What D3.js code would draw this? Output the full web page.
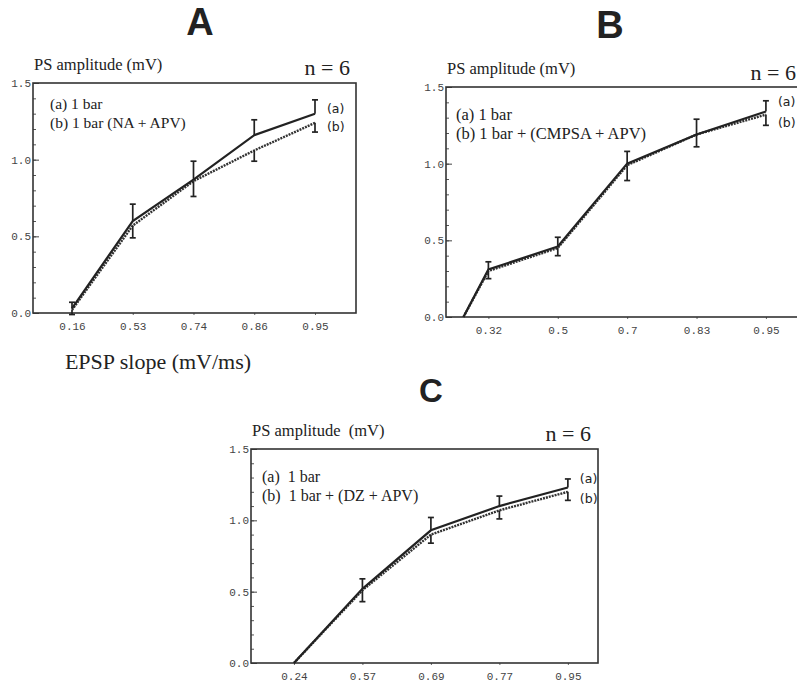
<!DOCTYPE html>
<html>
<head>
<meta charset="utf-8">
<script src="https://cdn.jsdelivr.net/npm/d3@7"></script>
<style>
  body { margin: 0; background: #fff; }
  svg { display: block; }
  text { white-space: pre; }
  .tick text { font-family: 'Liberation Mono', monospace; font-size: 11px; fill: #444; }
</style>
</head>
<body>
<div class="vis-figure"></div>
<script>
// tick labels (EPSP slope, mV/ms) and PS amplitude values
const ticksA = ['0.16', '0.53', '0.74', '0.86', '0.95'];
const xsA = [0, 1, 2, 3, 4];
const seriesAa = [0.03, 0.60, 0.87, 1.16, 1.30];
const seriesAb = [0.02, 0.57, 0.86, 1.06, 1.24];
const errAa = [0.04, 0.11, 0.12, 0.10, 0.09];
const errAb = [0.03, 0.08, 0.10, 0.07, 0.06];

const ticksB = ['0.32', '0.5', '0.7', '0.83', '0.95'];
const xsB = [-0.36, 0, 1, 2, 3, 4];
const seriesBa = [0, 0.31, 0.46, 1.00, 1.19, 1.34];
const seriesBb = [0, 0.30, 0.45, 0.99, 1.19, 1.32];
const errBa = [null, 0.05, 0.06, 0.08, 0.10, 0.07];
const errBb = [null, 0.05, 0.05, 0.10, 0.08, 0.07];

const ticksC = ['0.24', '0.57', '0.69', '0.77', '0.95'];
const xsC = [0, 1, 2, 3, 4];
const seriesCa = [0, 0.52, 0.93, 1.10, 1.23];
const seriesCb = [0, 0.51, 0.90, 1.07, 1.20];
const errCa = [null, 0.07, 0.09, 0.07, 0.06];
const errCb = [null, 0.08, 0.06, 0.06, 0.06];

const yMajor = [0, 0.5, 1.0, 1.5];

const panels = [
    { letter: 'A', letterX: 200, letterY: 35, letterSize: 38,
      box: {left: 33, top: 83, right: 356, bottom: 313}, xDomain: [-0.642, 4.675],
      ticks: ticksA, xs: xsA, a: seriesAa, b: seriesAb, errA: errAa, errB: errAb,
      yTitle: 'PS amplitude (mV)', titleY: 70, nX: 350, nY: 75,
      legend: ['(a) 1 bar', '(b) 1 bar (NA + APV)'], legendSize: 15.5, legendX: 50, legendY: 109, labY: [113, 131] },
    { letter: 'B', letterX: 610, letterY: 38, letterSize: 38,
      box: {left: 446, top: 87, right: 802, bottom: 317}, xDomain: [-0.611, 4.52],
      ticks: ticksB, xs: xsB, a: seriesBa, b: seriesBb, errA: errBa, errB: errBb,
      yTitle: 'PS amplitude (mV)', titleY: 74, nX: 796, nY: 80,
      legend: ['(a) 1 bar', '(b) 1 bar + (CMPSA + APV)'], legendSize: 16.5, legendX: 456, legendY: 120, labY: [106, 127] },
    { letter: 'C', letterX: 431, letterY: 402, letterSize: 33,
      box: {left: 251, top: 449, right: 598, bottom: 663}, xDomain: [-0.627, 4.44],
      ticks: ticksC, xs: xsC, a: seriesCa, b: seriesCb, errA: errCa, errB: errCb,
      yTitle: 'PS amplitude  (mV)', titleY: 436, nX: 591, nY: 441,
      legend: ['(a)  1 bar', '(b)  1 bar + (DZ + APV)'], legendSize: 16, legendX: 262, legendY: 482, labY: [483, 503] }
];

const svg = d3.select('.vis-figure').append('svg')
    .attr('width', 797)
    .attr('height', 683);

const ink = '#222';

panels.forEach(p => {
    const b = p.box;
    const x = d3.scaleLinear().domain(p.xDomain).range([b.left, b.right]);
    const y = d3.scaleLinear().domain([0, 1.5]).range([b.bottom, b.top]);
    const g = svg.append('g');

    // panel letter
    g.append('text')
        .attr('x', p.letterX).attr('y', p.letterY)
        .attr('text-anchor', 'middle')
        .style('font-family', "'Liberation Sans', Arial, sans-serif")
        .style('font-weight', 'bold')
        .style('font-size', p.letterSize + 'px')
        .attr('fill', ink)
        .text(p.letter);

    // y axis: labels, minor ticks, major ticks (pointing inward)
    g.append('g')
        .attr('transform', 'translate(' + (b.left - 1) + ',0)')
        .call(d3.axisLeft(y).tickValues(yMajor).tickSize(0).tickPadding(1).tickFormat(d3.format('.1f')))
        .call(s => s.select('.domain').remove());
    g.append('g')
        .attr('transform', 'translate(' + b.left + ',0)')
        .call(d3.axisRight(y).tickValues(d3.range(0, 16).map(i => i / 10)).tickSize(3).tickFormat(''))
        .call(s => s.select('.domain').remove())
        .selectAll('line').attr('stroke', '#555');
    g.append('g')
        .attr('transform', 'translate(' + b.left + ',0)')
        .call(d3.axisRight(y).tickValues(yMajor).tickSize(6).tickFormat(''))
        .call(s => s.select('.domain').remove())
        .selectAll('line').attr('stroke', '#444');

    // x axis
    g.append('g')
        .attr('transform', 'translate(0,' + b.bottom + ')')
        .call(d3.axisBottom(x).tickValues(d3.range(p.ticks.length)).tickSize(2).tickPadding(7)
            .tickFormat(i => p.ticks[i]))
        .call(s => s.select('.domain').remove())
        .selectAll('line').attr('stroke', '#666');

    // frame
    g.append('rect')
        .attr('x', b.left).attr('y', b.top)
        .attr('width', b.right - b.left).attr('height', b.bottom - b.top)
        .attr('fill', 'none').attr('stroke', '#333').attr('stroke-width', 1.6);

    // titles
    g.append('text')
        .attr('x', b.left + 1).attr('y', p.titleY)
        .style('font-family', "'Liberation Serif', serif")
        .style('font-size', '16.5px')
        .attr('fill', ink)
        .text(p.yTitle);
    g.append('text')
        .attr('x', p.nX).attr('y', p.nY)
        .attr('text-anchor', 'end')
        .style('font-family', "'Liberation Serif', serif")
        .style('font-size', '22px')
        .attr('fill', ink)
        .text('n = 6');

    // legend
    p.legend.forEach((t, i) => {
        g.append('text')
            .attr('x', p.legendX).attr('y', p.legendY + i * 19)
            .style('font-family', "'Liberation Serif', serif")
            .style('font-size', p.legendSize + 'px')
            .attr('fill', ink)
            .text(t);
    });

    const line = d3.line().x(d => x(d[0])).y(d => y(d[1]));
    const ptsB = p.xs.map((v, i) => [v, p.b[i]]);
    const ptsA = p.xs.map((v, i) => [v, p.a[i]]);

    g.append('path')
        .datum(ptsB)
        .attr('d', line)
        .attr('fill', 'none').attr('stroke', '#333')
        .attr('stroke-width', 2.4).attr('stroke-dasharray', '2,1');
    g.append('path')
        .datum(ptsA)
        .attr('d', line)
        .attr('fill', 'none').attr('stroke', ink)
        .attr('stroke-width', 2.2);

    // error bars: (a) upward, (b) downward
    const bars = [];
    p.xs.forEach((v, i) => {
        if (p.errA[i] != null) bars.push({x: v, y0: p.a[i], y1: p.a[i] + p.errA[i]});
        if (p.errB[i] != null) bars.push({x: v, y0: p.b[i], y1: p.b[i] - p.errB[i]});
    });
    const eb = g.selectAll('.err')
        .data(bars)
        .enter().append('g')
        .attr('class', 'err')
        .attr('stroke', ink).attr('stroke-width', 1.7);
    eb.append('line')
        .attr('x1', d => x(d.x)).attr('x2', d => x(d.x))
        .attr('y1', d => y(d.y0)).attr('y2', d => y(d.y1));
    eb.append('line')
        .attr('x1', d => x(d.x) - 3).attr('x2', d => x(d.x) + 3)
        .attr('y1', d => y(d.y1)).attr('y2', d => y(d.y1));

    // series labels at the right end
    ['(a)', '(b)'].forEach((t, i) => {
        g.append('text')
            .attr('x', x(4) + 12).attr('y', p.labY[i])
            .style('font-family', "'DejaVu Sans', sans-serif")
            .style('font-size', '12.5px')
            .attr('fill', ink)
            .text(t);
    });

    // x axis title only under A
    if (p.letter === 'A') {
        g.append('text')
            .attr('x', 158).attr('y', 369)
            .attr('text-anchor', 'middle')
            .style('font-family', "'Liberation Serif', serif")
            .style('font-size', '22px')
            .attr('fill', ink)
            .text('EPSP slope (mV/ms)');
    }
});
</script>
</body>
</html>
